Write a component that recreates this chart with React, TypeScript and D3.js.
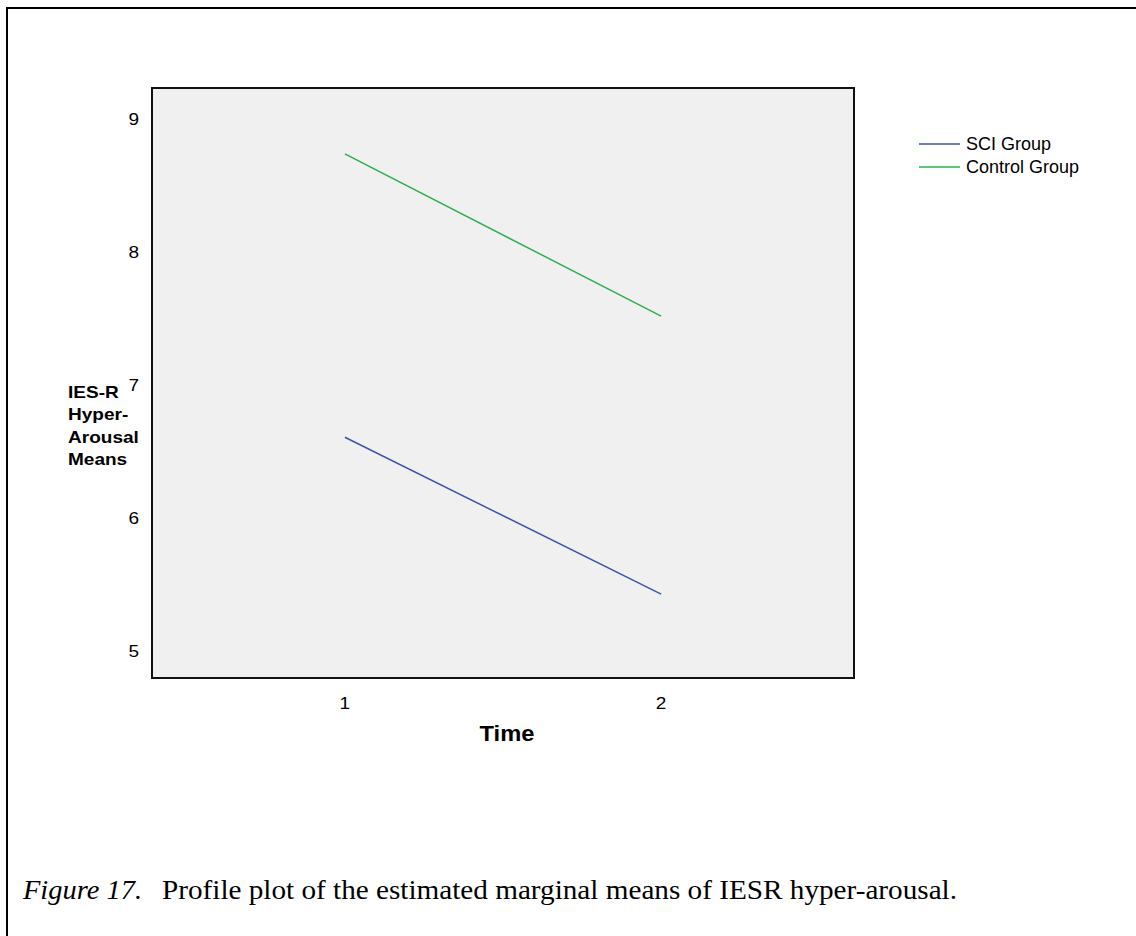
import * as d3 from 'd3';
import React from 'react';

// Estimated marginal means
const times = ['1', '2'];
const sciGroup = [6.61, 5.43];
const controlGroup = [8.74, 7.52];
const yTicks = [5, 6, 7, 8, 9];
const yTitle = ['IES-R', 'Hyper-', 'Arousal', 'Means'];

const series = [
  { name: 'SCI Group', values: sciGroup, color: '#3a56aa' },
  { name: 'Control Group', values: controlGroup, color: '#27b34a' },
];

const W = 1136;
const H = 936;
const plot = { left: 152, top: 88, right: 854, bottom: 678 };

const App = () => {
  const x = d3.scalePoint<string>()
    .domain(times)
    .range([plot.left, plot.right])
    .padding(0.61);

  const y = d3.scaleLinear()
    .domain([4.8, 9.235])
    .range([plot.bottom, plot.top]);

  const line = d3.line<number>()
    .x((d, i) => x(times[i]) as number)
    .y((d) => y(d));

  const font = 'Arial, "Liberation Sans", sans-serif';
  const serif = '"Liberation Serif", "Times New Roman", serif';

  return (
    <svg width={W} height={H} style={{ position: 'absolute', left: 0, top: 0 }}>
      <rect x={0} y={0} width={W} height={H} fill="#fff" />
      {/* outer frame */}
      <rect x={7} y={8} width={W + 10} height={H + 10} fill="none" stroke="#000" strokeWidth={2} />

      {/* plot area */}
      <rect x={plot.left} y={plot.top} width={plot.right - plot.left} height={plot.bottom - plot.top}
        fill="#f0f0f0" stroke="#111" strokeWidth={2} />

      {/* y tick labels */}
      {yTicks.map((t) => (
        <g key={t} transform={`translate(139, ${y(t)}) scale(1.12, 1)`}>
          <text dy="0.35em" textAnchor="end" fontFamily={font} fontSize={17}>{t}</text>
        </g>
      ))}

      {/* x tick labels */}
      {times.map((t) => (
        <g key={t} transform={`translate(${x(t)}, 703) scale(1.12, 1)`}>
          <text dy="0.35em" textAnchor="middle" fontFamily={font} fontSize={17}>{t}</text>
        </g>
      ))}

      {/* series lines */}
      {series.map((s) => (
        <path key={s.name} d={line(s.values) || ''} fill="none" stroke={s.color} strokeWidth={1.5} />
      ))}

      {/* axis titles */}
      <g transform="translate(507, 733) scale(1.08, 1)">
        <text dy="0.35em" textAnchor="middle" fontFamily={font} fontSize={22} fontWeight="bold">Time</text>
      </g>
      {yTitle.map((l, i) => (
        <g key={l} transform={`translate(68, ${392 + i * 22.3}) scale(1.12, 1)`}>
          <text dy="0.35em" fontFamily={font} fontSize={17} fontWeight="bold">{l}</text>
        </g>
      ))}

      {/* legend */}
      {series.map((s, i) => (
        <g key={s.name} transform={`translate(919, ${144 + i * 23})`}>
          <line x1={0} x2={41} y1={0} y2={0} stroke={s.color} strokeWidth={1.5} />
          <text x={47} y={0} dy="0.35em" fontFamily={font} fontSize={18}>{s.name}</text>
        </g>
      ))}

      {/* caption */}
      <text x={23} y={899} fontFamily={serif} fontSize={28} fontStyle="italic"
        textLength={119} lengthAdjust="spacingAndGlyphs">Figure 17.</text>
      <text x={162} y={899} fontFamily={serif} fontSize={28}
        textLength={795} lengthAdjust="spacingAndGlyphs">Profile plot of the estimated marginal means of IESR hyper-arousal.</text>
    </svg>
  );
};

export default App;
